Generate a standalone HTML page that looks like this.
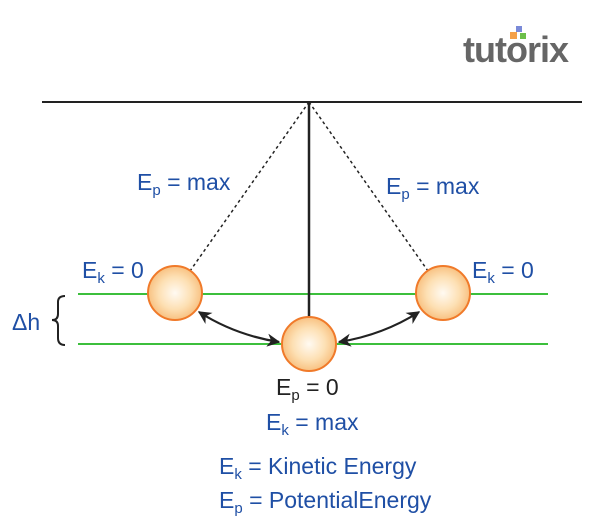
<!DOCTYPE html>
<html><head><meta charset="utf-8"><style>
html,body{margin:0;padding:0;background:#fff;}
svg{display:block;}
text{font-family:"Liberation Sans",Arial,sans-serif;font-size:23px;fill:#1f4fa5;}
</style></head><body>
<svg width="600" height="524" viewBox="0 0 600 524" xmlns="http://www.w3.org/2000/svg">
<defs>
<radialGradient id="g" cx="0.5" cy="0.5" r="0.5">
<stop offset="0" stop-color="#fffaf2"/><stop offset="0.6" stop-color="#fde0b4"/><stop offset="1" stop-color="#f8c181"/>
</radialGradient>
<marker id="a" viewBox="0 0 10 10" refX="9" refY="5" markerWidth="6" markerHeight="6" orient="auto-start-reverse">
<path d="M0,0 L10,5 L0,10 L3,5z" fill="#222"/></marker>
</defs>
<text x="463" y="62" style="font-size:36px;font-weight:bold;fill:#666;letter-spacing:-1px">tutorix</text>
<rect x="516" y="26" width="6" height="6" fill="#7a8ad8"/>
<rect x="510" y="32" width="7" height="7" fill="#f4a04a"/>
<rect x="520" y="33" width="6" height="6" fill="#6cbf4a"/>
<line x1="42" y1="102" x2="582" y2="102" stroke="#222" stroke-width="2"/>
<line x1="78" y1="294" x2="548" y2="294" stroke="#3cbf3c" stroke-width="2"/>
<line x1="78" y1="344" x2="548" y2="344" stroke="#3cbf3c" stroke-width="2"/>
<line x1="309" y1="102" x2="190" y2="271" stroke="#222" stroke-width="1.5" stroke-dasharray="3,3"/>
<line x1="309" y1="102" x2="428" y2="271" stroke="#222" stroke-width="1.5" stroke-dasharray="3,3"/>
<line x1="309" y1="102" x2="309" y2="318" stroke="#222" stroke-width="2.5"/>
<circle cx="175" cy="293" r="27" fill="url(#g)" stroke="#f07a2a" stroke-width="2"/>
<circle cx="443" cy="293" r="27" fill="url(#g)" stroke="#f07a2a" stroke-width="2"/>
<circle cx="309" cy="344" r="27" fill="url(#g)" stroke="#f07a2a" stroke-width="2"/>
<path d="M199,312 Q235,335 279,342" fill="none" stroke="#222" stroke-width="2.2" marker-start="url(#a)" marker-end="url(#a)"/>
<path d="M339,342 Q383,335 419,312" fill="none" stroke="#222" stroke-width="2.2" marker-start="url(#a)" marker-end="url(#a)"/>
<path d="M65,296 Q58,296 58,302 L58,314 Q58,320 52,320 Q58,320 58,326 L58,338 Q58,345 65,345" fill="none" stroke="#222" stroke-width="2"/>
<text x="12" y="330">Δh</text>
<text x="137" y="190">E<tspan dy="5" style="font-size:15px">p</tspan><tspan dy="-5"> = max</tspan></text>
<text x="386" y="194">E<tspan dy="5" style="font-size:15px">p</tspan><tspan dy="-5"> = max</tspan></text>
<text x="82" y="278">E<tspan dy="5" style="font-size:15px">k</tspan><tspan dy="-5"> = 0</tspan></text>
<text x="472" y="278">E<tspan dy="5" style="font-size:15px">k</tspan><tspan dy="-5"> = 0</tspan></text>
<text x="276" y="395" style="fill:#222">E<tspan dy="5" style="font-size:15px;fill:#222">p</tspan><tspan dy="-5" style="fill:#222"> = 0</tspan></text>
<text x="266" y="430">E<tspan dy="5" style="font-size:15px">k</tspan><tspan dy="-5"> = max</tspan></text>
<text x="219" y="474">E<tspan dy="5" style="font-size:15px">k</tspan><tspan dy="-5"> = Kinetic Energy</tspan></text>
<text x="219" y="508">E<tspan dy="5" style="font-size:15px">p</tspan><tspan dy="-5"> = PotentialEnergy</tspan></text>
</svg>
</body></html>
